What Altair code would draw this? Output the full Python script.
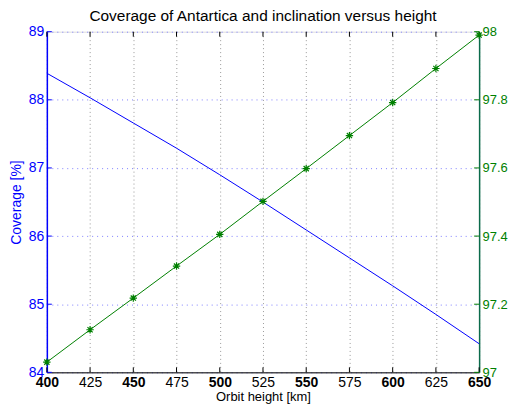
import altair as alt
import pandas as pd

title_text = "Coverage of Antartica and inclination versus height"
heights = [400, 425, 450, 475, 500, 525, 550, 575, 600, 625, 650]
coverage = [88.39, 88.03, 87.66, 87.29, 86.90, 86.50, 86.09, 85.68, 85.27, 84.85, 84.42]
inclination = [97.03, 97.125, 97.218, 97.312, 97.405, 97.502, 97.598, 97.695, 97.792, 97.892, 97.99]
x_ticks = [400, 425, 450, 475, 500, 525, 550, 575, 600, 625, 650]
cov_ticks = [84, 85, 86, 87, 88, 89]
inc_ticks = [97.0, 97.2, 97.4, 97.6, 97.8, 98.0]

df = pd.DataFrame({"h": heights, "cov": coverage, "inc": inclination})
xt = pd.DataFrame({"h": x_ticks})
ct = pd.DataFrame({"v": cov_ticks})
it = pd.DataFrame({"v": inc_ticks})
tt = pd.DataFrame({"t": [title_text]})

W, H = 434, 342
BLUE = "#0000ff"
GREEN = "#008000"
AXGREEN = "#0b6b4b"
FONT = "Liberation Sans"
LFS = 14

x_scale = alt.Scale(domain=[400, 650], nice=False, zero=False)
cov_scale = alt.Scale(domain=[84, 89], nice=False, zero=False)
inc_scale = alt.Scale(domain=[97, 98], nice=False, zero=False)

x_axis = alt.Axis(
    values=x_ticks, title="Orbit height [km]", grid=True, gridDash=[1, 3],
    gridColor="#999999", gridOpacity=1, gridWidth=1, ticks=False, tickSize=0,
    domainColor="black", labelColor="black", labelFontSize=LFS, labelFont=FONT,
    labelPadding=3, labelFlush=False, labelOverlap=False,
    labelFontWeight={"expr": "datum.value % 50 == 0 ? 'bold' : 'normal'"},
    titleFont=FONT, titleFontSize=13, titleFontWeight="normal", titleColor="black",
    titlePadding=1, format="d",
)
left_axis = alt.Axis(
    values=cov_ticks, title="Coverage [%]", orient="left", grid=True, gridDash=[1, 4],
    gridColor="#7f7fff", gridOpacity=1, gridWidth=1, ticks=False, tickSize=0,
    domainColor=BLUE, domainWidth=1.5, labelColor=BLUE, labelFontSize=LFS, labelFont=FONT,
    labelPadding=3, labelFlush=False, labelOverlap=False,
    titleFont=FONT, titleFontSize=14, titleFontWeight="normal",
    titleColor=BLUE, titlePadding=5, format="d",
)
right_axis = alt.Axis(
    values=inc_ticks, title="", orient="right", grid=False, ticks=False, tickSize=0,
    domainColor=AXGREEN, domainWidth=1.5, labelColor=GREEN, labelFontSize=13,
    labelFont=FONT, labelPadding=3, labelFlush=False, labelOverlap=False, format=".1~f",
)

base_x = alt.X("h:Q", scale=x_scale, axis=x_axis)

blue_line = alt.Chart(df).mark_line(color=BLUE, strokeWidth=1).encode(
    x=base_x, y=alt.Y("cov:Q", scale=cov_scale, axis=left_axis)
)
left_ticks = alt.Chart(ct).mark_rule(color=BLUE, strokeWidth=1).encode(
    y=alt.Y("v:Q", scale=cov_scale, axis=left_axis), x=alt.value(0), x2=alt.value(5)
)
bottom_ticks = alt.Chart(xt).mark_rule(color="black", strokeWidth=1).encode(
    x=base_x, y=alt.value(H), y2=alt.value(H - 5)
)
top_ticks = alt.Chart(xt).mark_rule(color="black", strokeWidth=1).encode(
    x=base_x, y=alt.value(0), y2=alt.value(5)
)
title_mark = alt.Chart(tt).mark_text(
    font=FONT, fontSize=15.5, color="black", align="center", baseline="alphabetic"
).encode(text="t:N", x=alt.value(W / 2), y=alt.value(-11))
left = alt.layer(blue_line, left_ticks, bottom_ticks, top_ticks, title_mark)

asterisk = "M-1,0L1,0M0,-1L0,1M-0.7,-0.7L0.7,0.7M-0.7,0.7L0.7,-0.7"
green_line = alt.Chart(df).mark_line(color=GREEN, strokeWidth=1).encode(
    x=base_x, y=alt.Y("inc:Q", scale=inc_scale, axis=right_axis)
)
green_pts = alt.Chart(df).mark_point(
    shape=asterisk, filled=False, color=GREEN, size=55, strokeWidth=1.2, opacity=1
).encode(x=base_x, y=alt.Y("inc:Q", scale=inc_scale, axis=right_axis))
right_ticks = alt.Chart(it).mark_rule(color=GREEN, strokeWidth=1).encode(
    y=alt.Y("v:Q", scale=inc_scale, axis=right_axis), x=alt.value(W), x2=alt.value(W - 5)
)
right = alt.layer(green_line, green_pts, right_ticks)

chart = (
    alt.layer(left, right)
    .resolve_scale(y="independent")
    .properties(
        width=W, height=H,
        padding={"left": 39, "top": 23, "right": 30, "bottom": 31},
        autosize=alt.AutoSizeParams(type="none"),
    )
    .configure_view(stroke="black", strokeWidth=1)
    .configure(background="white")
)

chart.save("out.html", embed_options={"renderer": "svg", "actions": False})
